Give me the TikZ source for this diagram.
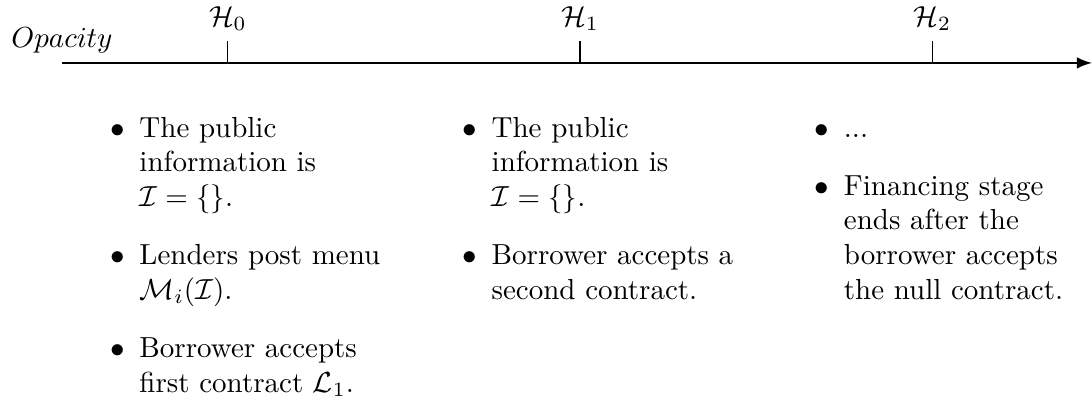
\documentclass[tikz,border=0pt]{standalone}
\usepackage{tikz}
\usetikzlibrary{positioning}
\usepackage{amsmath}
\renewcommand{\labelitemi}{$\bullet$}

\begin{document}
\begin{tikzpicture}[
  stage/.style={anchor=north,text width=3.9cm,align=left,inner sep=0pt},
  tickmark/.style={thin},
]
\useasboundingbox (-0.752,-4.183) rectangle (12.486,0.763);
\coordinate (start) at (0,0);
\coordinate (end) at (12.486,0);
\draw[thick,-latex] (start) -- (end);
\node[above] (opacity) at (start) {$Opacity$};
\foreach \i/\x in {0/2.01,1/6.28,2/10.55} {
  \coordinate (tb\i) at (\x,0);
  \coordinate (tt\i) at (\x,0.27);
  \draw[tickmark] (tb\i) -- (tt\i);
  \node[above] (h\i) at (tt\i) {$\mathcal{H}_{\i}$};
}
\node[stage] (s0) at ([yshift=-0.19cm]tb0) {
  \begin{itemize}
    \item The public information is $\mathcal{I}=\{\}$.
    \item Lenders post menu $\mathcal{M}_i(\mathcal{I})$.
    \item Borrower accepts first contract $\mathcal{L}_1$.
  \end{itemize}};
\node[stage] (s1) at ([yshift=-0.19cm]tb1) {
  \begin{itemize}
    \item The public information is $\mathcal{I}=\{\}$.
    \item Borrower accepts a second contract.
  \end{itemize}};
\node[stage] (s2) at ([yshift=-0.19cm]tb2) {
  \begin{itemize}
    \item ...
    \item Financing stage ends after the borrower accepts the null contract.
  \end{itemize}};
\end{tikzpicture}
\end{document}
